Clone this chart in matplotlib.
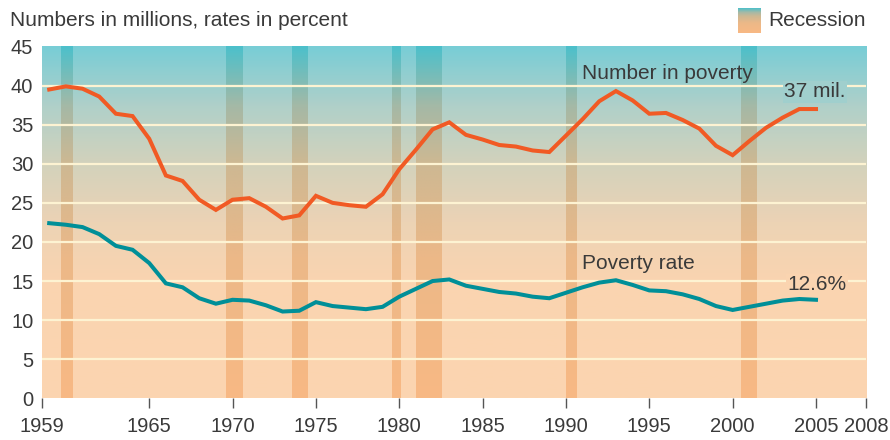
import numpy as np
import matplotlib.pyplot as plt
from matplotlib.colors import LinearSegmentedColormap

plt.rcParams['font.family'] = ['Liberation Sans', 'DejaVu Sans']

# --- DATA ---
years = list(range(1959, 2006))
number_in_poverty = [39.5, 39.9, 39.6, 38.6, 36.4, 36.1, 33.2, 28.5, 27.8, 25.4,
                     24.1, 25.4, 25.6, 24.5, 23.0, 23.4, 25.9, 25.0, 24.7, 24.5,
                     26.1, 29.3, 31.8, 34.4, 35.3, 33.7, 33.1, 32.4, 32.2, 31.7,
                     31.5, 33.6, 35.7, 38.0, 39.3, 38.1, 36.4, 36.5, 35.6, 34.5,
                     32.3, 31.1, 32.9, 34.6, 35.9, 37.0, 37.0]
poverty_rate = [22.4, 22.2, 21.9, 21.0, 19.5, 19.0, 17.3, 14.7, 14.2, 12.8,
                12.1, 12.6, 12.5, 11.9, 11.1, 11.2, 12.3, 11.8, 11.6, 11.4,
                11.7, 13.0, 14.0, 15.0, 15.2, 14.4, 14.0, 13.6, 13.4, 13.0,
                12.8, 13.5, 14.2, 14.8, 15.1, 14.5, 13.8, 13.7, 13.3, 12.7,
                11.8, 11.3, 11.7, 12.1, 12.5, 12.7, 12.6]

# recession periods (start, end) as drawn
recession_start = [1959.7, 1969.6, 1973.55, 1979.55, 1981.0, 1990.0, 2000.5]
recession_end = [1960.4, 1970.6, 1974.45, 1980.05, 1982.5, 1990.65, 2001.4]

x_tick_years = [1959, 1965, 1970, 1975, 1980, 1985, 1990, 1995, 2000, 2005, 2008]
x_tick_labels = [str(y) for y in x_tick_years]
y_ticks = list(range(0, 50, 5))

# --- STYLE ---
X_LEFT, X_RIGHT = 1958.55, 2008
Y_TOP = 45
TEXT_COLOR = '#3a3a3a'
ORANGE = '#f15a24'
TEAL = '#008f98'
GRID_COLOR = '#fdf3d2'

# background gradients, position 0 = bottom (0), 1 = top (45)
bg_cmap = LinearSegmentedColormap.from_list('bg', [
    (0.0, '#fcd5b0'), (0.33, '#fad4b0'), (0.5, '#ecd3b5'),
    (0.67, '#d2d2bc'), (0.83, '#b0d0c9'), (1.0, '#78cdd6')])
band_cmap = LinearSegmentedColormap.from_list('band', [
    (0.0, '#f8b984'), (0.4, '#ecb888'), (0.67, '#cdb893'),
    (0.83, '#a5b9a6'), (1.0, '#4cc0cb')])

fig = plt.figure(figsize=(8.9, 4.4), dpi=100)
ax = fig.add_axes([41.7 / 890, 1 - 398.3 / 440, (866 - 41.7) / 890, (398.3 - 46.5) / 440])

grad = np.linspace(0, 1, 256).reshape(-1, 1)
ax.imshow(grad, cmap=bg_cmap, origin='lower', aspect='auto',
          extent=[X_LEFT, X_RIGHT, 0, Y_TOP], zorder=0, vmin=0, vmax=1)
for s, e in zip(recession_start, recession_end):
    ax.imshow(grad, cmap=band_cmap, origin='lower', aspect='auto',
              extent=[s, e, 0, Y_TOP], zorder=1, vmin=0, vmax=1)

for y in y_ticks[1:-1]:
    ax.axhline(y, color=GRID_COLOR, lw=1.6, zorder=2)

ax.plot(years, number_in_poverty, color=ORANGE, lw=2.9, zorder=4, solid_joinstyle='miter')
ax.plot(years, poverty_rate, color=TEAL, lw=2.9, zorder=4, solid_joinstyle='miter')

# labels
ax.text(1990.95, 41.6, 'Number in poverty', fontsize=15, color=TEXT_COLOR, va='center', zorder=3)
ax.text(1990.95, 17.3, 'Poverty rate', fontsize=15, color=TEXT_COLOR, va='center', zorder=3)
ax.text(2003.1, 39.2, '37 mil.', fontsize=15, color=TEXT_COLOR, va='center', zorder=3,
        bbox=dict(facecolor=bg_cmap(39.5 / Y_TOP), edgecolor='none', pad=1))
ax.text(2003.3, 14.5, '12.6%', fontsize=15, color=TEXT_COLOR, va='center', zorder=3,
        bbox=dict(facecolor=bg_cmap(14.5 / Y_TOP), edgecolor='none', pad=1))

ax.set_xlim(X_LEFT, X_RIGHT)
ax.set_ylim(0, Y_TOP)
tick_pos = [X_LEFT] + x_tick_years[1:]
ax.set_xticks(tick_pos)
ax.set_xticklabels(x_tick_labels)
ax.set_yticks(y_ticks)
ax.tick_params(axis='x', direction='out', length=7.5, width=1, color='#555555',
               labelsize=14.5, labelcolor=TEXT_COLOR, pad=6)
ax.tick_params(axis='y', length=0, labelsize=14.5, labelcolor=TEXT_COLOR, pad=6)
for sp in ax.spines.values():
    sp.set_visible(False)

# title and legend
fig.text(10 / 890, 1 - 20 / 440, 'Numbers in millions, rates in percent',
         fontsize=15, color=TEXT_COLOR, va='center', ha='left')
sw = fig.add_axes([738 / 890, 1 - 33 / 440, 23 / 890, 25 / 440])
sw.imshow(grad, cmap=band_cmap, origin='lower', aspect='auto', vmin=0, vmax=1)
sw.axis('off')
fig.text(768 / 890, 1 - 20 / 440, 'Recession', fontsize=15, color=TEXT_COLOR,
         va='center', ha='left')

fig.savefig('out.png', dpi=100)
